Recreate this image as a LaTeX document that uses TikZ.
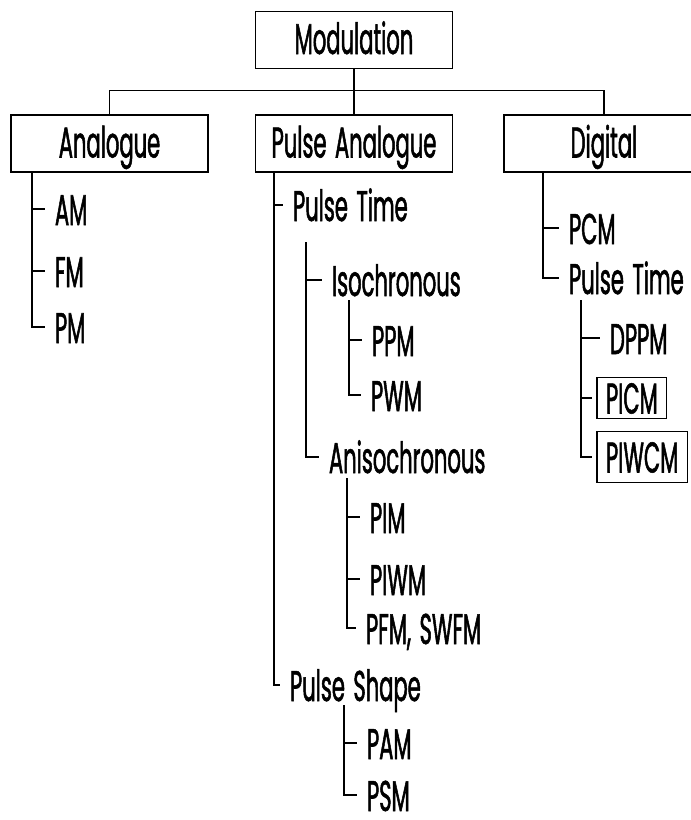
\documentclass[tikz,border=0pt]{standalone}
\usepackage{fontspec}
\setmainfont{Poppins}[FakeStretch=0.49, FakeBold=1.2, WordSpace=1.5]
\begin{document}
\begin{tikzpicture}[x=1pt,y=-1pt,
  every node/.style={font=\fontsize{43}{48}\selectfont},
  box/.style={draw, line width=1.3pt, minimum width=197pt, minimum height=57pt, inner sep=0pt, text height=28pt, text depth=0pt},
  item/.style={anchor=west, inner sep=0pt, outer xsep=10pt, text height=32pt, text depth=0pt},
  tagbox/.style={draw, line width=1.3pt, anchor=west, inner xsep=9pt, outer xsep=5pt, text height=31pt, text depth=0pt},
  link/.style={line width=1.3pt}]
  \useasboundingbox (0,0) rectangle (691,820);

  % Top levels
  \node[box] (mod) at (354,40) {Modulation};
  \node[box] (ana) at (109.5,143.5) {Analogue};
  \node[box] (pa) at (354,143.5) {Pulse Analogue};
  \node[box, minimum width=200pt] (dig) at (604,143.5) {Digital};
  \draw[link] (mod.south) -- ++(0,21) coordinate (bar);
  \draw[link] (ana.north) |- (bar) -| (dig.north);
  \draw[link] (bar) -- (pa.north);

  % Analogue
  \node[item] (am) at (45,209) {AM};
  \node[item] (fm) at (45,271) {FM};
  \node[item] (pm) at (45,327) {PM};
  \coordinate (ana-t) at (32,172);
  \foreach \c in {am,fm,pm} \draw[link] (ana-t) |- (\c.west);

  % Pulse analogue
  \node[item] (ptime) at (283,205) {Pulse Time};
  \node[item] (pshape) at (280,685) {Pulse Shape};
  \coordinate (pa-t) at (274,172);
  \foreach \c in {ptime,pshape} \draw[link] (pa-t) |- (\c.west);

  \node[item] (iso) at (322,280) {Isochronous};
  \node[item] (aniso) at (319,457) {Anisochronous};
  \coordinate (ptime-t) at (306,242);
  \foreach \c in {iso,aniso} \draw[link] (ptime-t) |- (\c.west);

  \node[item] (ppm) at (362,340) {PPM};
  \node[item] (pwm) at (361,395) {PWM};
  \coordinate (iso-t) at (349,300);
  \foreach \c in {ppm,pwm} \draw[link] (iso-t) |- (\c.west);

  \node[item] (pim) at (360,517) {PIM};
  \node[item] (piwm) at (360,579) {PIWM};
  \node[item] (pfm) at (356,628) {PFM, SWFM};
  \coordinate (aniso-t) at (347,478);
  \foreach \c in {pim,piwm,pfm} \draw[link] (aniso-t) |- (\c.west);

  \node[item] (pam) at (357,743) {PAM};
  \node[item] (psm) at (357,795) {PSM};
  \coordinate (pshape-t) at (344,705);
  \foreach \c in {pam,psm} \draw[link] (pshape-t) |- (\c.west);

  % Digital
  \node[item] (pcm) at (559,228) {PCM};
  \node[item] (dtime) at (559,278) {Pulse Time};
  \coordinate (dig-t) at (543,172);
  \foreach \c in {pcm,dtime} \draw[link] (dig-t) |- (\c.west);

  \node[item] (dppm) at (600,338) {DPPM};
  \node[tagbox, inner ysep=5pt] (picm) at (592,398) {PICM};
  \node[tagbox, inner ysep=10pt] (piwcm) at (592,457) {PIWCM};
  \coordinate (dtime-t) at (581,300);
  \foreach \c in {dppm,picm,piwcm} \draw[link] (dtime-t) |- (\c.west);
\end{tikzpicture}
\end{document}
